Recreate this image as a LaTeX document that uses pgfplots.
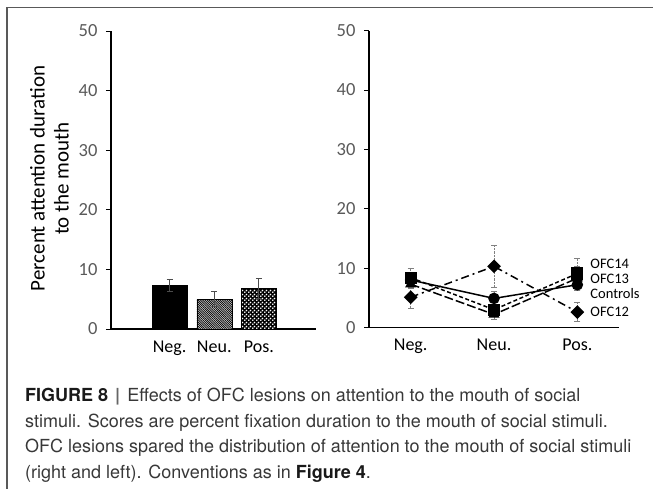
\documentclass[border=0pt]{standalone}
\usepackage{fontspec}
\setmainfont{Carlito}
\newfontfamily\capfont{TeX Gyre Heros}
\usepackage{pgfplots}
\pgfplotsset{compat=1.18}
\usetikzlibrary{patterns}
\pgfdeclarepatternformonly{whitedots}{\pgfqpoint{0pt}{0pt}}{\pgfqpoint{4pt}{4pt}}{\pgfqpoint{4pt}{4pt}}{%
 \pgfpathcircle{\pgfqpoint{1pt}{1pt}}{1.1pt}\pgfpathcircle{\pgfqpoint{3pt}{3pt}}{1.1pt}\pgfusepath{fill}}
\pgfdeclarepatternformonly{densenw}{\pgfqpoint{-1pt}{-1pt}}{\pgfqpoint{3pt}{3pt}}{\pgfqpoint{2.2pt}{2.2pt}}{%
 \pgfsetlinewidth{0.7pt}\pgfpathmoveto{\pgfqpoint{0pt}{2.2pt}}\pgfpathlineto{\pgfqpoint{2.2pt}{0pt}}\pgfusepath{stroke}}
\definecolor{tickgray}{HTML}{595959}
\begin{document}
\begin{tikzpicture}
\useasboundingbox (0,0) rectangle (653pt,-489pt);
\draw[line width=1.2pt, black!65] (7pt,-489pt) -- (7pt,-7.5pt) -- (653pt,-7.5pt);
\pgfplotsset{
  common/.style={
    scale only axis, axis x line=bottom, axis y line=left,
    axis line style={-, line width=1.5pt},
    ymin=0, ymax=50, ytick={0,10,20,30,40,50},
    tick align=outside, major tick length=5pt,
    ytick style={draw=black, line width=1pt},
    xtick style={draw=none},
    yticklabel style={font=\fontsize{18.5}{18.5}\selectfont, text=tickgray, xshift=-5pt},
    xticklabel style={font=\fontsize{18}{18}\selectfont, text=black, yshift=-3pt},
    /pgf/number format/assume math mode=true,
  },
  barerr/.style={/pgfplots/error bars/y dir=both, /pgfplots/error bars/y explicit,
    /pgfplots/error bars/error bar style={black!70, line width=1pt},
    /pgfplots/error bars/error mark options={rotate=90, mark size=3pt, black!70, line width=1pt}},
  lineerr/.style={/pgfplots/error bars/y dir=both, /pgfplots/error bars/y explicit,
    /pgfplots/error bars/error bar style={gray, densely dotted, line width=0.9pt},
    /pgfplots/error bars/error mark options={solid, rotate=90, mark size=3pt, gray, line width=1pt}},
}
\begin{axis}[common, at={(111pt,-329pt)}, anchor=south west,
  width=205pt, height=298pt, xmin=-1.315, xmax=3.28,
  xtick={0,1,2}, xticklabels={Neg.,Neu.,Pos.},
  ylabel={Percent attention duration\\to the mouth},
  ylabel style={at={(axis description cs:-0.3,0.505)}, anchor=center, align=center,
    font=\fontsize{21}{24}\selectfont},
  bar width=35pt, clip=false]
\addplot[ybar, bar shift=0pt, fill=black, draw=black, barerr]
  coordinates {(0,7.3) +- (0,0.95)};
\addplot[ybar, bar shift=0pt, fill=black!15, draw=black, postaction={pattern=densenw}, barerr]
  coordinates {(1,5.0) +- (0,1.3)};
\addplot[ybar, bar shift=0pt, fill=black, draw=black, postaction={pattern=whitedots, pattern color=white}, barerr]
  coordinates {(2,6.8) +- (0,1.6)};
\end{axis}
\begin{axis}[common, at={(369pt,-327.5pt)}, anchor=south west,
  width=250pt, height=296.8pt, xmin=0, xmax=3,
  xtick={0.5,1.5,2.5}, xticklabels={Neg.,Neu.,Pos.}, clip=false]
% OFC12 dash-dot diamond
\addplot[black, line width=1.5pt, dash pattern=on 8pt off 4pt on 2pt off 4pt, mark=square*, mark size=4.1pt, mark options={solid, rotate=45}, lineerr]
  coordinates {(0.5,5.1) +- (0,1.9) (1.5,10.3) +- (0,3.5) (2.5,2.6) +- (0,1.6)};
% OFC13 long dash triangle
\addplot[black, line width=1.5pt, dash pattern=on 9pt off 3pt, mark=triangle*, mark size=5pt, mark options={solid}, lineerr]
  coordinates {(0.5,7.3) +- (0,0.8) (1.5,2.2) +- (0,0.9) (2.5,8.3) +- (0,2.0)};
% OFC14 short dash square
\addplot[black, line width=1.5pt, dash pattern=on 4pt off 2.5pt, mark=square*, mark size=5.3pt, mark options={solid}, lineerr]
  coordinates {(0.5,8.4) +- (0,1.6) (1.5,3.0) +- (0,1.7) (2.5,9.1) +- (0,2.6)};
% Controls solid circle
\addplot[black, line width=1.5pt, solid, mark=*, mark size=5pt, lineerr]
  coordinates {(0.5,8.0) +- (0,0.6) (1.5,4.9) +- (0,1.2) (2.5,7.2) +- (0,1.0)};
\node[anchor=west, font=\fontsize{14.5}{14.5}\selectfont, inner sep=0] at (axis cs:2.655,10.75) {OFC14};
\node[anchor=west, font=\fontsize{14.5}{14.5}\selectfont, inner sep=0] at (axis cs:2.655,8.15) {OFC13};
\node[anchor=west, font=\fontsize{14.5}{14.5}\selectfont, inner sep=0] at (axis cs:2.655,5.75) {Controls};
\node[anchor=west, font=\fontsize{14.5}{14.5}\selectfont, inner sep=0] at (axis cs:2.655,2.6) {OFC12};
\end{axis}
\begin{scope}[every node/.style={anchor=base west, inner sep=0, font=\capfont\fontsize{18}{26}\selectfont, text=black!78}]
\node at (25pt,-401.5pt) {{\color{black!90}\textbf{FIGURE 8}}\hspace{7pt}{\color{black!60}\textbf{|}}\hspace{7pt}Effects of OFC lesions on attention to the mouth of social};
\node at (25pt,-427pt) {stimuli. Scores are percent fixation duration to the mouth of social stimuli.};
\node at (25pt,-452.7pt) {OFC lesions spared the distribution of attention to the mouth of social stimuli};
\node at (25pt,-478.3pt) {(right and left). Conventions as in {\color{black!90}\textbf{Figure 4}}.};
\end{scope}
\end{tikzpicture}
\end{document}
